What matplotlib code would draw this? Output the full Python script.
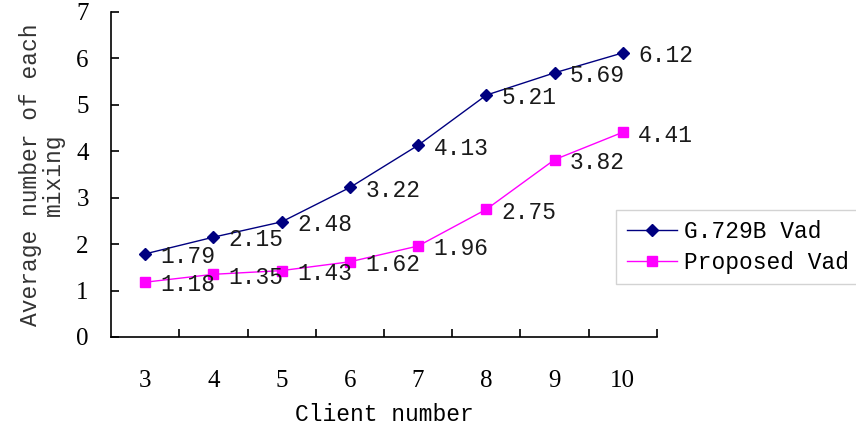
import matplotlib
matplotlib.use('Agg')
import matplotlib.pyplot as plt

clients = ['3', '4', '5', '6', '7', '8', '9', '10']
g729b = [1.79, 2.15, 2.48, 3.22, 4.13, 5.21, 5.69, 6.12]
proposed = [1.18, 1.35, 1.43, 1.62, 1.96, 2.75, 3.82, 4.41]
yticks = [0, 1, 2, 3, 4, 5, 6, 7]

MONO = 'Liberation Mono'
SERIF = 'Liberation Serif'

plt.rcParams['font.family'] = SERIF


def main():
    fig = plt.figure(figsize=(8.56, 4.30), dpi=100)
    ax = fig.add_axes([0.1297, 0.2163, 0.6378, 0.7558])
    xs = list(range(len(clients)))

    ax.plot(xs, g729b, color='#000080', lw=1, marker='D', ms=6.5,
            label='G.729B Vad')
    ax.plot(xs, proposed, color='#ff00ff', lw=1, marker='s', ms=7,
            label='Proposed Vad')

    # value labels to the right of each point
    for series in (g729b, proposed):
        for x, v in zip(xs, series):
            ax.annotate('%.2f' % v, (x, v), xytext=(11, -2),
                        textcoords='offset points', va='center', ha='left',
                        fontsize=16.5, family=MONO, color='#1a1a1a')

    ax.set_xlim(-0.5, len(clients) - 0.5)
    ax.set_ylim(0, 7)
    ax.set_yticks(yticks)
    ax.set_yticklabels([str(t) for t in yticks])

    # category labels in the middle, tick marks between them
    ax.set_xticks(xs)
    ax.set_xticklabels(clients)
    ax.set_xticks([x + 0.5 for x in xs], minor=True)
    ax.tick_params(axis='x', which='major', length=0, pad=24, labelsize=18)
    ax.tick_params(axis='x', which='minor', direction='in', length=6, width=1.2)
    ax.tick_params(axis='y', direction='in', length=6, width=1.2, pad=16,
                   labelsize=18)

    for s in ('top', 'right'):
        ax.spines[s].set_visible(False)
    for s in ('left', 'bottom'):
        ax.spines[s].set_linewidth(1.2)

    ax.set_xlabel('Client number', family=MONO, fontsize=16.5, labelpad=8)
    ax.set_ylabel('Average number of each\nmixing', family=MONO, fontsize=16.5,
                  labelpad=8, color='#333333', linespacing=1.0)

    leg = ax.legend(loc='upper left', bbox_to_anchor=(0.72, 0.512),
                    bbox_transform=fig.transFigure, prop={'family': MONO, 'size': 16.5},
                    frameon=True, fancybox=False, borderpad=0.45, borderaxespad=0,
                    handlelength=2.2, handletextpad=0.3, labelspacing=0.35)
    leg.get_frame().set_edgecolor('#c8c8c8')
    leg.get_frame().set_linewidth(1)

    fig.savefig('out.png', dpi=100)


main()
